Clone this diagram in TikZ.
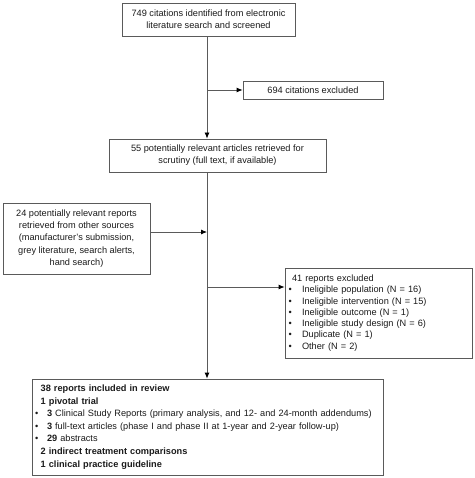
\documentclass[tikz,border=0pt]{standalone}
\usepackage{fontspec}
\setmainfont{Liberation Sans}
\usetikzlibrary{arrows.meta,calc}
\definecolor{edge}{HTML}{5A5A5A}
\definecolor{ink}{HTML}{1A1A1A}
\begin{document}
\begin{tikzpicture}[x=1pt,y=-1pt,
  box/.style={draw=edge,line width=0.8pt,rectangle,inner sep=0pt,text=ink,font=\fontsize{9.2}{12}\selectfont},
  conn/.style={draw=edge,line width=0.8pt},
  arr/.style={conn,-{Latex[length=6pt,width=5pt,color=black]}}]
\useasboundingbox (0,0) rectangle (474,478);
% boxes
\node[box,minimum width=173pt,minimum height=33pt,align=center] (b1) at (208.5,19.5)
  {749 citations identified from electronic\\literature search and screened};
\node[box,minimum width=140pt,minimum height=18pt,align=center] (b2) at (313,90)
  {694 citations excluded};
\node[box,minimum width=217pt,minimum height=33pt,align=center] (b3) at (217.5,155.5)
  {55 potentially relevant articles retrieved for\\scrutiny (full text, if available)};
\node[box,minimum width=147pt,minimum height=71pt,align=center,font=\fontsize{9.2}{12.2}\selectfont] (b4) at (76.5,238.5)
  {24 potentially relevant reports\\retrieved from other sources\\(manufacturer's submission,\\grey literature, search alerts,\\hand search)};
\node[box,minimum width=187pt,minimum height=90pt,inner xsep=7pt,text width=173pt,align=left,font=\fontsize{9.2}{11.3}\selectfont] (b5) at (378.5,313)
  {41 reports excluded\\
   \hspace*{-3.5pt}\makebox[13.5pt][l]{\textbullet}Ineligible population (N = 16)\\
   \hspace*{-3.5pt}\makebox[13.5pt][l]{\textbullet}Ineligible intervention (N = 15)\\
   \hspace*{-3.5pt}\makebox[13.5pt][l]{\textbullet}Ineligible outcome (N = 1)\\
   \hspace*{-3.5pt}\makebox[13.5pt][l]{\textbullet}Ineligible study design (N = 6)\\
   \hspace*{-3.5pt}\makebox[13.5pt][l]{\textbullet}Duplicate (N = 1)\\
   \hspace*{-3.5pt}\makebox[13.5pt][l]{\textbullet}Other (N = 2)};
\node[box,minimum width=351pt,minimum height=96pt,inner xsep=8.7pt,text width=333.6pt,align=left,font=\fontsize{9.2}{12.6}\selectfont] (b6) at (207.5,427)
  {\textbf{38 reports included in review}\\
   \textbf{1 pivotal trial}\\
   \hspace*{-5.7pt}\makebox[12pt][l]{\textbullet}\textbf{3} Clinical Study Reports (primary analysis, and 12- and 24-month addendums)\\
   \hspace*{-5.7pt}\makebox[12pt][l]{\textbullet}\textbf{3} full-text articles (phase I and phase II at 1-year and 2-year follow-up)\\
   \hspace*{-5.7pt}\makebox[12pt][l]{\textbullet}\textbf{29} abstracts\\
   \textbf{2 indirect treatment comparisons}\\
   \textbf{1 clinical practice guideline}};
% junctions
\coordinate (j1) at (207,90);
\coordinate (j2) at (207,232);
\coordinate (j3) at (207,287);
% connectors
\draw[conn] (b1.south -| j1) -- (j1);
\draw[arr] (j1) -- (b2.west |- j1);
\draw[arr] (j1) -- (b3.north -| j1);
\draw[arr] (b3.south -| j1) -- (b6.north -| j1);
\draw[arr] (b4.east |- j2) -- (j2);
\draw[arr] (j3) -- (b5.west |- j3);
\end{tikzpicture}
\end{document}
